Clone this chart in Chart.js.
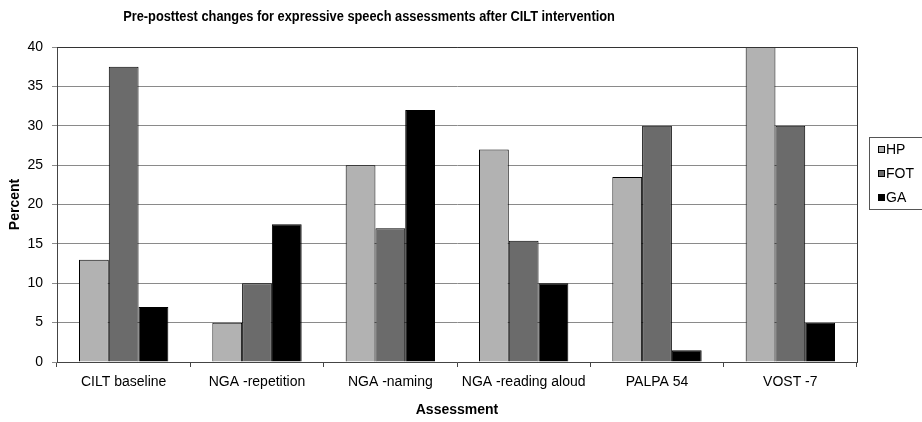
<!DOCTYPE html>
<html>
<head>
<meta charset="utf-8">
<script src="https://cdn.jsdelivr.net/npm/chart.js@4/dist/chart.umd.min.js"></script>
<style>
  html, body { margin: 0; padding: 0; background: #fff; }
  #wrap { width: 922px; height: 422px; }
</style>
</head>
<body>
<div id="wrap"><canvas id="chart"></canvas></div>
<script>
var TITLE = 'Pre-posttest changes for expressive speech assessments after CILT intervention';
var CATEGORIES = ['CILT baseline', 'NGA -repetition', 'NGA -naming', 'NGA -reading aloud', 'PALPA 54', 'VOST -7'];
var SERIES_NAMES = ['HP', 'FOT', 'GA'];
var HP = [13, 5, 25, 27, 23.5, 40];
var FOT = [37.5, 10, 17, 15.4, 30, 30];
var GA = [7, 17.5, 32, 10, 1.5, 5];
var COLORS = ['#b2b2b2', '#6b6b6b', '#000000'];
var FONT = '"Liberation Sans", Arial, sans-serif';

// title, plot frame and boxed legend drawn by hand
var decorations = {
    id: 'decorations',
    afterDraw: function(chart) {
        var ctx = chart.ctx;
        var area = chart.chartArea;
        ctx.save();

        ctx.strokeStyle = '#333';
        ctx.lineWidth = 1;
        ctx.beginPath();
        ctx.moveTo(area.left, area.top + 0.5);
        ctx.lineTo(area.right + 0.5, area.top + 0.5);
        ctx.lineTo(area.right + 0.5, area.bottom);
        ctx.stroke();

        // title is a little narrower than plain bold Arial
        ctx.save();
        ctx.translate(369, 17);
        ctx.scale(0.915, 1);
        ctx.fillStyle = '#000';
        ctx.font = 'bold 14px ' + FONT;
        ctx.textAlign = 'center';
        ctx.textBaseline = 'middle';
        ctx.fillText(TITLE, 0, 0);
        ctx.restore();

        ctx.strokeStyle = '#555';
        ctx.strokeRect(869.5, 137.5, 60, 72);
        ctx.font = '14px ' + FONT;
        ctx.textAlign = 'left';
        ctx.textBaseline = 'middle';
        var rows = [149, 173, 197];
        chart.data.datasets.forEach(function(ds, i) {
            ctx.fillStyle = ds.backgroundColor;
            ctx.fillRect(878, rows[i] - 3, 7, 7);
            ctx.strokeStyle = '#000';
            ctx.strokeRect(878.5, rows[i] - 2.5, 6, 6);
            ctx.fillStyle = '#000';
            ctx.fillText(ds.label, 886, rows[i] + 1);
        });
        ctx.restore();
    }
};

var chart = new Chart(document.getElementById('chart'), {
    type: 'bar',
    data: {
        labels: CATEGORIES,
        datasets: [HP, FOT, GA].map(function(values, i) {
            return {
                label: SERIES_NAMES[i],
                data: values,
                backgroundColor: COLORS[i],
                borderColor: '#000',
                borderWidth: 1,
                categoryPercentage: 0.67,
                barPercentage: 1
            };
        })
    },
    options: {
        responsive: true,
        maintainAspectRatio: false,
        animation: false,
        layout: { padding: { top: 47, right: 65, bottom: 0, left: 0 } },
        plugins: {
            legend: { display: false },
            title: { display: false },
            tooltip: { enabled: false }
        },
        scales: {
            x: {
                afterFit: function(scale) { scale.height = 60; },
                grid: {
                    offset: true,
                    drawOnChartArea: false,
                    tickLength: 5,
                    color: '#444'
                },
                border: { color: '#444', width: 1 },
                ticks: { color: '#000', font: { family: FONT, size: 14 }, padding: 7, maxRotation: 0 },
                title: {
                    display: true,
                    text: 'Assessment',
                    color: '#000',
                    font: { family: FONT, size: 14, weight: 'bold' },
                    padding: { top: 0, bottom: 3 }
                }
            },
            y: {
                min: 0,
                max: 40,
                afterFit: function(scale) { scale.width = 57; },
                grid: { color: '#8a8a8a', tickLength: 5 },
                border: { color: '#444', width: 1 },
                ticks: { stepSize: 5, color: '#000', font: { family: FONT, size: 14 }, padding: 9 },
                title: {
                    display: true,
                    text: 'Percent',
                    color: '#000',
                    font: { family: FONT, size: 14, weight: 'bold' },
                    padding: { top: 7, bottom: 0 }
                }
            }
        }
    },
    plugins: [decorations]
});
</script>
</body>
</html>
